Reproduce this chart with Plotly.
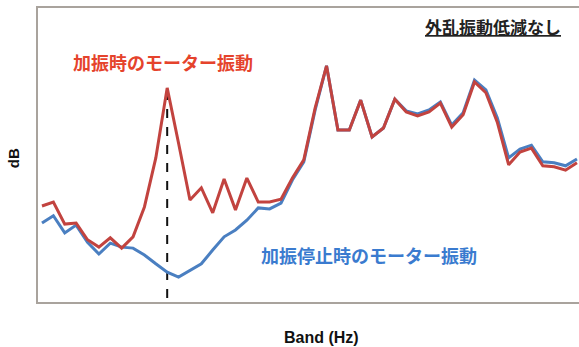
import plotly.graph_objects as go

# Frequency bands (index) and motor vibration levels in dB
bands = list(range(48))

vib_excited = [19.6, 20.4, 15.9, 16.1, 12.7, 11.2, 13.1, 11.0, 13.3, 19.4,
               29.4, 43.7, 32.4, 20.8, 23.3, 18.2, 25.1, 18.8, 25.3, 20.4,
               20.4, 21.0, 25.3, 29.0, 39.6, 48.2, 35.1, 35.1, 41.2, 33.7,
               35.5, 41.4, 38.8, 38.0, 38.8, 40.6, 35.7, 38.2, 44.9, 42.7,
               36.7, 28.0, 30.6, 31.4, 27.8, 27.6, 26.9, 28.4]

vib_stopped = [16.1, 17.6, 14.1, 15.7, 12.2, 9.8, 12.0, 11.2, 11.0, 9.6,
               7.8, 6.1, 5.1, 6.5, 7.8, 10.6, 13.3, 14.7, 16.7, 19.2,
               19.0, 20.2, 24.9, 28.6, 39.2, 48.2, 35.1, 35.1, 41.2, 33.7,
               35.5, 41.4, 39.0, 38.4, 39.2, 40.8, 36.1, 38.6, 45.3, 43.3,
               37.6, 29.4, 31.2, 32.0, 28.6, 28.4, 27.8, 29.2]

label_excited = "加振時のモーター振動"
label_stopped = "加振停止時のモーター振動"
label_condition = "外乱振動低減なし"

# Excitation frequency: the largest gap between the two measurements
diff = [a - b for a, b in zip(vib_excited, vib_stopped)]
peak_idx = max(range(len(diff)), key=lambda i: diff[i])

RED_LINE = "#c2433f"
BLUE_LINE = "#4a7fc1"
RED_TEXT = "#e5432c"
BLUE_TEXT = "#3a7bcf"
FRAME = "#a9a39d"
JP_FONT = "Noto Sans CJK JP"

fig = go.Figure()

# Marker line at the excitation peak
fig.add_trace(go.Scatter(
    x=[bands[peak_idx], bands[peak_idx]], y=[0.8, vib_excited[peak_idx]],
    mode="lines", line=dict(color="#111111", width=2, dash="dash"),
    hoverinfo="skip", showlegend=False))

fig.add_trace(go.Scatter(
    x=bands, y=vib_stopped, mode="lines",
    line=dict(color=BLUE_LINE, width=3), showlegend=False))

fig.add_trace(go.Scatter(
    x=bands, y=vib_excited, mode="lines",
    line=dict(color=RED_LINE, width=3), showlegend=False))

fig.add_annotation(x=10.6, y=49.0, text=label_excited, showarrow=False,
                   font=dict(family=JP_FONT, size=18, color=RED_TEXT,
                             weight="bold"))
fig.add_annotation(x=28.7, y=9.5, text=label_stopped, showarrow=False,
                   font=dict(family=JP_FONT, size=18, color=BLUE_TEXT,
                             weight="bold"))
fig.add_annotation(x=39.6, y=56.3, text="<u>" + label_condition + "</u>",
                   showarrow=False,
                   font=dict(family=JP_FONT, size=17, color="#222222",
                             weight="bold"))

# Axis titles
fig.add_annotation(xref="paper", yref="paper", x=(321 - 38) / 541, y=-0.12,
                   yanchor="middle", text="<b>Band (Hz)</b>", showarrow=False,
                   font=dict(family="Liberation Sans", size=16,
                             color="#111111"))
fig.add_annotation(xref="paper", yref="paper", x=-0.044, y=0.49,
                   xanchor="center", yanchor="middle", textangle=-90,
                   text="<b>dB</b>", showarrow=False,
                   font=dict(family="Liberation Sans", size=15,
                             color="#111111"))

fig.update_layout(
    width=579, height=347,
    margin=dict(l=38, r=0, t=8, b=45),
    paper_bgcolor="white", plot_bgcolor="white",
    xaxis=dict(range=[-0.35, 47.18], showgrid=False, zeroline=False,
               showticklabels=False, ticks="",
               showline=True, linecolor=FRAME, linewidth=2, mirror=True),
    yaxis=dict(range=[0, 60], showgrid=False, zeroline=False,
               showticklabels=False, ticks="",
               showline=True, linecolor=FRAME, linewidth=2),
)

fig.write_html("out.html")
